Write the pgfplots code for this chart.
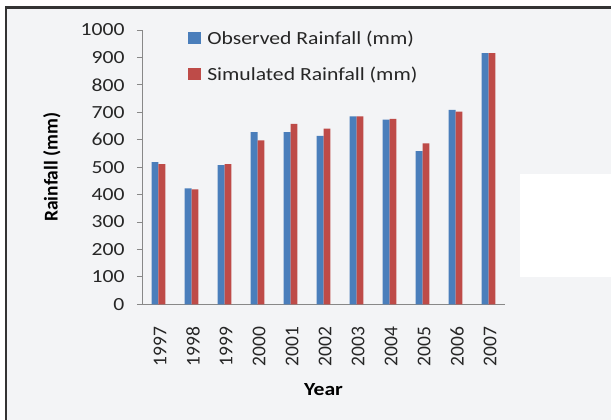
\documentclass[border=0pt]{standalone}
\usepackage{fontspec}
\setmainfont{Carlito}
\newfontfamily\widefont[FakeStretch=1.17]{Carlito}
\usepackage{pgfplots}
\pgfplotsset{compat=1.18}

\definecolor{obsblue}{HTML}{4A7EBB}
\definecolor{simred}{HTML}{BE4B48}
\definecolor{panelbg}{HTML}{F3F4F6}
\definecolor{framegray}{HTML}{333333}
\definecolor{axisgray}{HTML}{888888}

\newcommand{\wtext}{\widefont\fontsize{18.5}{22}\selectfont}
\newcommand{\rtext}{\fontsize{19.5}{22}\selectfont}

\begin{document}
\begin{tikzpicture}[x=1pt,y=1pt]
  % panel, frame and blank box on the right
  \fill[white] (0,0) rectangle (611,420);
  \path[use as bounding box] (0,0) rectangle (611,420);
  \fill[panelbg] (4.7,0) rectangle (611,414);
  \fill[framegray] (4.7,0) rectangle (7.4,414);
  \fill[framegray] (4.7,411.3) rectangle (611,414);
  \fill[white] (520,143) rectangle (611,246);

  \begin{axis}[
    at={(142pt,115.7pt)}, anchor=south west,
    scale only axis, width=363pt, height=274.3pt,
    xmin=-0.5, xmax=10.5, ymin=0, ymax=1000,
    axis lines*=left,
    axis line style={draw=axisgray, line width=0.9pt, -},
    xtick=data,
    xticklabels={1997,1998,1999,2000,2001,2002,2003,2004,2005,2006,2007},
    major x tick style={draw=none},
    ytick={0,100,...,1000},
    /pgf/number format/assume math mode=true,
    /pgf/number format/1000 sep={},
    tick align=outside,
    major tick length=5pt,
    ytick style={draw=axisgray, line width=0.9pt},
    yticklabel style={font=\wtext, text=black!85, anchor=east, xshift=-9pt},
    xticklabel style={font=\rtext, text=black!85, yshift=-14pt, xshift=1.5pt,
      rotate=90, anchor=east},
    ylabel={\textbf{Rainfall (mm)}},
    ylabel style={font=\rtext, at={(axis description cs:-0.248,0.5)}, anchor=center},
    xlabel={\textbf{Year}},
    xlabel style={font=\wtext, at={(axis description cs:0.5,-0.312)}, anchor=center},
    legend cell align=left,
    legend image code/.code={\fill[#1] (0pt,-6pt) rectangle (13pt,6pt);},
    legend style={at={(rel axis cs:0.127,1.006)}, anchor=north west,
      draw=none, fill=none, inner sep=0pt, font=\wtext, row sep=17pt,
      column sep=4pt,
      nodes={inner sep=2pt, text=black!85}},
  ]
    \addplot[ybar, bar width=0.206, bar shift=-0.103, fill=obsblue, draw=none]
      coordinates {(0,518) (1,423) (2,507) (3,628) (4,628) (5,614)
                   (6,685) (7,673) (8,558) (9,709) (10,916)};
    \addlegendentry{Observed Rainfall (mm)}
    \addplot[ybar, bar width=0.206, bar shift=0.103, fill=simred, draw=none]
      coordinates {(0,511) (1,419) (2,511) (3,598) (4,658) (5,640)
                   (6,685) (7,676) (8,587) (9,702) (10,916)};
    \addlegendentry{Simulated Rainfall (mm)}
  \end{axis}
\end{tikzpicture}
\end{document}
